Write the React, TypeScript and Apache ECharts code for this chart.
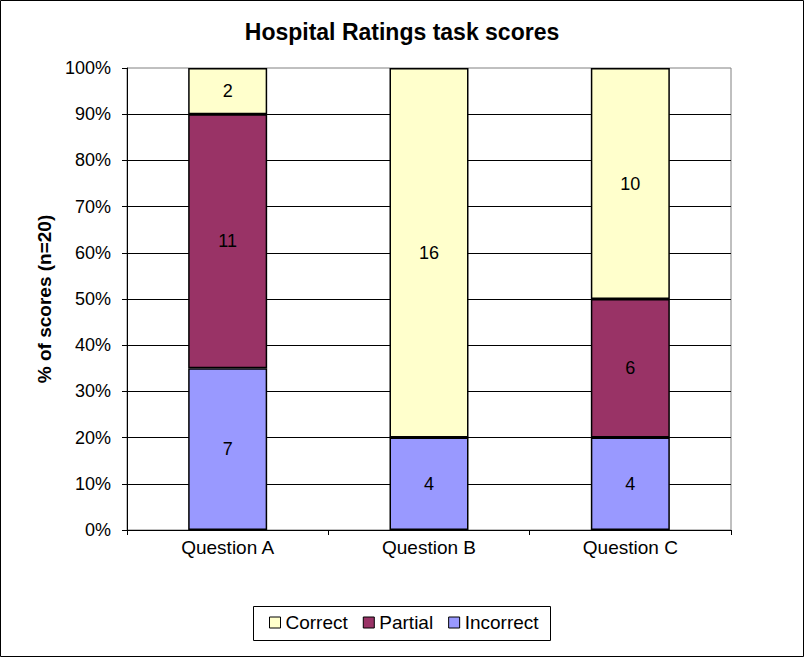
import React, { useEffect, useRef } from "react";
import * as echarts from "echarts";

const categories = ["Question A", "Question B", "Question C"];
const incorrect = [7, 4, 4];
const partial = [11, 0, 6];
const correct = [2, 16, 10];
const total = 20;
const yTickStep = 2;

export default function App() {
  const ref = useRef<HTMLDivElement>(null);
  useEffect(() => {
    if (!ref.current) return;
    const chart = echarts.init(ref.current, undefined, { renderer: "svg" });
    const font = "Arial, 'Liberation Sans', sans-serif";
    const labelCfg = {
      show: true,
      position: "inside",
      color: "#000",
      fontSize: 18,
      fontFamily: font,
      formatter: (p: any) => (p.value ? String(p.value) : ""),
    };
    const mk = (name: string, data: number[], color: string) => ({
      name,
      type: "bar",
      stack: "all",
      data,
      barWidth: 79,
      itemStyle: { color, borderColor: "#000", borderWidth: 1.5 },
      label: labelCfg,
      emphasis: { disabled: true },
    });
    chart.setOption({
      animation: false,
      backgroundColor: "#fff",
      textStyle: { fontFamily: font },
      title: {
        text: "Hospital Ratings task scores",
        left: "center",
        top: 15,
        textStyle: { fontSize: 23, fontWeight: "bold", color: "#000", fontFamily: font },
      },
      grid: {
        left: 127,
        right: 73,
        top: 68,
        bottom: 127,
        show: true,
        borderColor: "#808080",
        borderWidth: 1,
        backgroundColor: "#fff",
      },
      legend: {
        data: ["Correct", "Partial", "Incorrect"],
        left: 269,
        top: 613,
        padding: 0,
        itemWidth: 11,
        itemHeight: 11,
        itemGap: 15,
        icon: "rect",
        itemStyle: { borderWidth: 1, borderColor: "#000" },
        textStyle: { fontSize: 19, color: "#000", fontFamily: font },
        selectedMode: false,
      },
      xAxis: {
        type: "category",
        data: categories,
        axisLine: { lineStyle: { color: "#000", width: 1 } },
        axisTick: { show: true, alignWithLabel: false, length: 5, lineStyle: { color: "#000" } },
        axisLabel: { color: "#000", fontSize: 19, margin: 8, fontFamily: font },
      },
      yAxis: {
        type: "value",
        min: 0,
        max: total,
        interval: yTickStep,
        name: "% of scores (n=20)",
        nameLocation: "middle",
        nameGap: 72,
        nameTextStyle: { fontSize: 19, fontWeight: "bold", color: "#000", fontFamily: font },
        axisLine: { show: true, lineStyle: { color: "#000", width: 1 } },
        axisTick: { show: true, length: 5, lineStyle: { color: "#000" } },
        axisLabel: {
          color: "#000",
          fontSize: 18,
          margin: 16,
          fontFamily: font,
          formatter: (v: number) => Math.round((v / total) * 100) + "%",
        },
        splitLine: { show: true, showMaxLine: false, lineStyle: { color: "#000", width: 1 } },
      },
      graphic: [
        {
          type: "rect",
          shape: { x: 0.5, y: 0.5, width: 803, height: 656 },
          style: { fill: "none", stroke: "#000", lineWidth: 1 },
          z: 100,
        },
        {
          type: "rect",
          shape: { x: 253.5, y: 606.5, width: 297, height: 34 },
          style: { fill: "none", stroke: "#000", lineWidth: 1 },
          z: 100,
        },
      ],
      series: [
        mk("Incorrect", incorrect, "#9999FF"),
        mk("Partial", partial, "#993366"),
        mk("Correct", correct, "#FFFFCC"),
      ],
    });
    return () => chart.dispose();
  }, []);
  return (
    <div
      ref={ref}
      style={{ position: "fixed", left: 0, top: 0, width: 804, height: 657 }}
    />
  );
}
